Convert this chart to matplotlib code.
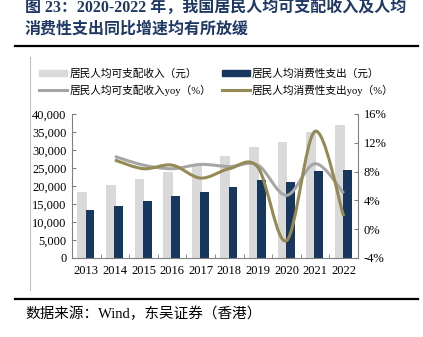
import numpy as np
import matplotlib
matplotlib.use("Agg")
import matplotlib.pyplot as plt
from matplotlib.path import Path
from matplotlib.patches import PathPatch, Patch
from matplotlib.lines import Line2D

plt.rcParams['font.family'] = ['Liberation Serif', 'Noto Sans CJK SC']

years = ['2013', '2014', '2015', '2016', '2017', '2018', '2019', '2020', '2021', '2022']
income = [18311, 20167, 21966, 23821, 25974, 28228, 30733, 32189, 35128, 36883]
spend = [13220, 14491, 15712, 17111, 18322, 19853, 21559, 21210, 24100, 24538]
income_yoy = [None, 10.1, 8.9, 8.4, 9.0, 8.7, 8.9, 4.7, 9.1, 5.0]
spend_yoy = [None, 9.6, 8.4, 8.9, 7.1, 8.4, 8.6, -1.6, 13.6, 1.8]

labels = ['居民人均可支配收入（元）', '居民人均消费性支出（元）',
          '居民人均可支配收入yoy（%）', '居民人均消费性支出yoy（%）']

c_inc = '#d9d9d9'
c_spd = '#17375e'
c_iy = '#a6a6a6'
c_sy = '#948a54'
title_c = '#1f3864'


def smooth_path(xs, ys):
    # catmull-rom style bezier through the points (like excel smoothed lines)
    pts = np.column_stack([xs, ys])
    verts = [pts[0]]
    codes = [Path.MOVETO]
    n = len(pts)
    for i in range(n - 1):
        p0 = pts[i - 1] if i > 0 else pts[i]
        p1 = pts[i]
        p2 = pts[i + 1]
        p3 = pts[i + 2] if i + 2 < n else pts[i + 1]
        c1 = p1 + (p2 - p0) / 6.0
        c2 = p2 - (p3 - p1) / 6.0
        verts += [c1, c2, p2]
        codes += [Path.CURVE4] * 3
    return Path(verts, codes)


fig = plt.figure(figsize=(4.23, 3.37), dpi=100)

# header / footer
fig.text(25 / 423, 1 - 8 / 337, '图 23：2020-2022 年，我国居民人均可支配收入及人均',
         color=title_c, fontsize=11.5, fontweight='bold', va='center', ha='left')
fig.text(25 / 423, 1 - 30 / 337, '消费性支出同比增速均有所放缓',
         color=title_c, fontsize=11.5, fontweight='bold', va='center', ha='left')
fig.add_artist(Line2D([15 / 423, 418 / 423], [1 - 46 / 337] * 2, color='black', lw=1.6))
fig.add_artist(Line2D([15 / 423, 418 / 423], [1 - 299 / 337] * 2, color='black', lw=1.6))
fig.add_artist(Line2D([30 / 423] * 2, [1 - 57 / 337, 1 - 290 / 337], color='#bfbfbf', lw=0.8))
fig.text(25 / 423, 1 - 314 / 337, '数据来源：Wind，东吴证券（香港）',
         color='black', fontsize=10.5, va='center', ha='left')

ax = fig.add_axes([72 / 423, 79 / 337, 286 / 423, 144 / 337])
x = np.arange(len(years))
ax.bar(x - 0.14, income, width=0.34, color=c_inc, zorder=1)
ax.bar(x + 0.13, spend, width=0.31, color=c_spd, zorder=2)
ax.set_xlim(-0.5, 9.5)
ax.set_ylim(0, 40000)
ax.set_yticks(range(0, 40001, 5000))
ax.set_yticklabels([f'{v:,}' for v in range(0, 40001, 5000)])
ax.set_xticks(x)
ax.set_xticklabels(years)
ax.set_xticks(np.arange(0.5, 9.5, 1), minor=True)
ax.tick_params(axis='x', which='major', length=0, pad=5, labelsize=9)
ax.tick_params(axis='x', which='minor', length=3, direction='in', color='#808080')
ax.tick_params(axis='y', length=3, direction='in', color='#808080', labelsize=9, pad=4)
for s in ['top', 'right']:
    ax.spines[s].set_visible(False)
ax.spines['left'].set_color('#808080')
ax.spines['bottom'].set_color('#808080')

ax2 = ax.twinx()
ax2.set_ylim(-4, 16)
ax2.set_yticks(range(-4, 17, 4))
ax2.set_yticklabels([f'{v}%' for v in range(-4, 17, 4)])
ax2.tick_params(axis='y', length=3, direction='in', color='#808080', labelsize=9, pad=4)
for s in ['top', 'left', 'bottom']:
    ax2.spines[s].set_visible(False)
ax2.spines['right'].set_color('#808080')

for vals, col in [(income_yoy, c_iy), (spend_yoy, c_sy)]:
    xs = [i for i, v in enumerate(vals) if v is not None]
    ys = [v for v in vals if v is not None]
    ax2.add_patch(PathPatch(smooth_path(xs, ys), facecolor='none', edgecolor=col,
                            lw=2.2, capstyle='butt', zorder=3))

handles = [Patch(color=c_inc), Patch(color=c_spd),
           Line2D([], [], color=c_iy, lw=2.2), Line2D([], [], color=c_sy, lw=2.2)]
# legend fills column by column: reorder so rows read bar/bar then line/line
order = [0, 2, 1, 3]
fig.legend([handles[i] for i in order], [labels[i] for i in order],
           loc='upper left', bbox_to_anchor=(34 / 423, 1 - 63 / 337),
           ncol=2, frameon=False, fontsize=7.7, handlelength=2.6, handleheight=0.6,
           handletextpad=0.2, columnspacing=1.0, labelspacing=0.55, borderpad=0)

fig.savefig('out.png', dpi=100)
